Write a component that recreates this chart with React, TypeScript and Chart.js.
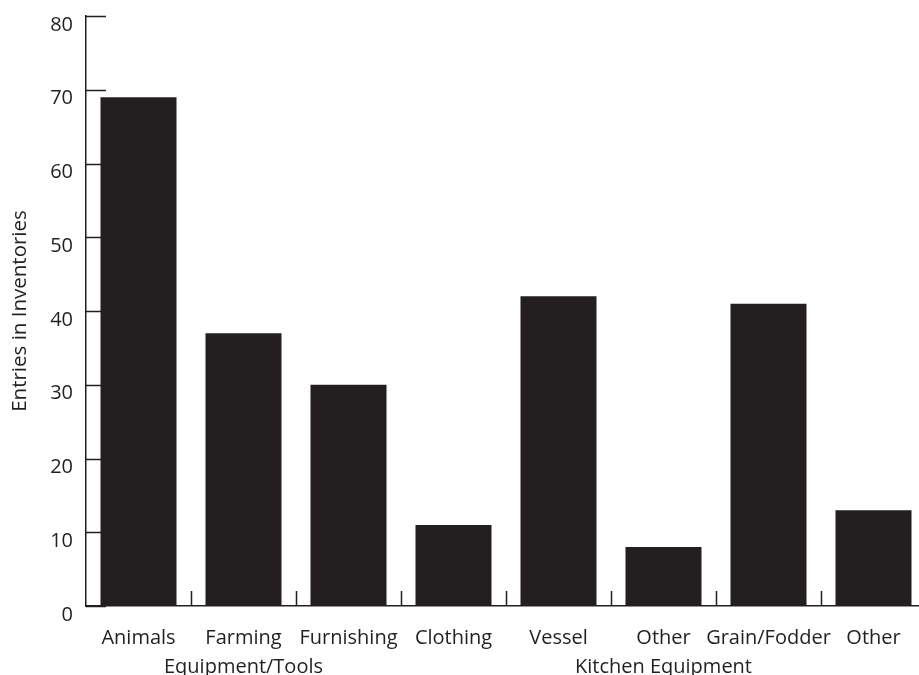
import React, { useEffect, useRef } from "react";
import { Chart, registerables } from "chart.js";

Chart.register(...registerables);

const categories: string[][] = [
  ["Animals"],
  ["Farming", "Equipment/Tools"],
  ["Furnishing"],
  ["Clothing"],
  ["Vessel"],
  ["Other", "Kitchen Equipment"],
  ["Grain/Fodder"],
  ["Other"],
];
const entries: number[] = [69, 37, 30, 11, 42, 8, 41, 13];
const yTicks: number[] = [0, 10, 20, 30, 40, 50, 60, 70, 80];
const yTitle = "Entries in Inventories";

const INK = "#231f20";
const FONT = "'Open Sans', sans-serif";

const insideTicks = {
  id: "insideTicks",
  afterDatasetsDraw(chart: any) {
    const { ctx, chartArea, scales } = chart;
    const xs = scales.x;
    const ys = scales.y;
    ctx.save();
    ctx.strokeStyle = INK;
    ctx.lineWidth = 1.5;
    ctx.beginPath();
    yTicks.forEach((v) => {
      const yp = Math.round(ys.getPixelForValue(v)) + 0.5;
      ctx.moveTo(chartArea.left, yp);
      ctx.lineTo(chartArea.left + 20, yp);
    });
    for (let i = 1; i <= categories.length; i++) {
      const xp = Math.round(xs.getPixelForValue(i - 0.5)) + 0.5;
      ctx.moveTo(xp, chartArea.bottom);
      ctx.lineTo(xp, chartArea.bottom - 15);
    }
    ctx.stroke();
    ctx.restore();
  },
};

export default function App() {
  const ref = useRef<HTMLCanvasElement | null>(null);
  useEffect(() => {
    if (!ref.current) return;
    const chart = new Chart(ref.current, {
      type: "bar",
      data: {
        labels: categories,
        datasets: [
          {
            data: entries,
            backgroundColor: INK,
            borderWidth: 0,
            barPercentage: 0.724,
            categoryPercentage: 1,
          },
        ],
      },
      options: {
        animation: false,
        responsive: false,
        layout: { padding: { top: 16, left: 0, right: 4, bottom: 0 } },
        plugins: { legend: { display: false }, tooltip: { enabled: false } },
        scales: {
          x: {
            offset: true,
            grid: { display: false, drawTicks: false },
            border: { display: true, color: INK, width: 1.5 },
            ticks: {
              color: INK,
              font: { family: FONT, size: 20, lineHeight: 1.45 },
              padding: 18,
              maxRotation: 0,
              autoSkip: false,
            },
            afterFit: (s: any) => {
              s.height = 69;
              s.paddingLeft = 0;
              s.paddingRight = 0;
            },
          },
          y: {
            min: 0,
            max: 80,
            grid: { display: false, drawTicks: false },
            border: { display: true, color: INK, width: 1.5 },
            ticks: {
              stepSize: 10,
              color: INK,
              font: { family: FONT, size: 20 },
              padding: 13,
              labelOffset: 9,
            },
            title: {
              display: true,
              text: yTitle,
              color: INK,
              font: { family: FONT, size: 20.5 },
              padding: { top: 8, bottom: 0 },
            },
            afterFit: (s: any) => {
              s.width = 86;
              s.paddingTop = 0;
              s.paddingBottom = 0;
            },
          },
        },
      },
      plugins: [insideTicks],
    });
    return () => chart.destroy();
  }, []);
  return (
    <div
      style={{
        position: "fixed",
        left: 0,
        top: 0,
        width: 919,
        height: 675,
        overflow: "hidden",
        background: "#fff",
      }}
    >
      <canvas ref={ref} width={930} height={675} style={{ display: "block" }} />
    </div>
  );
}
